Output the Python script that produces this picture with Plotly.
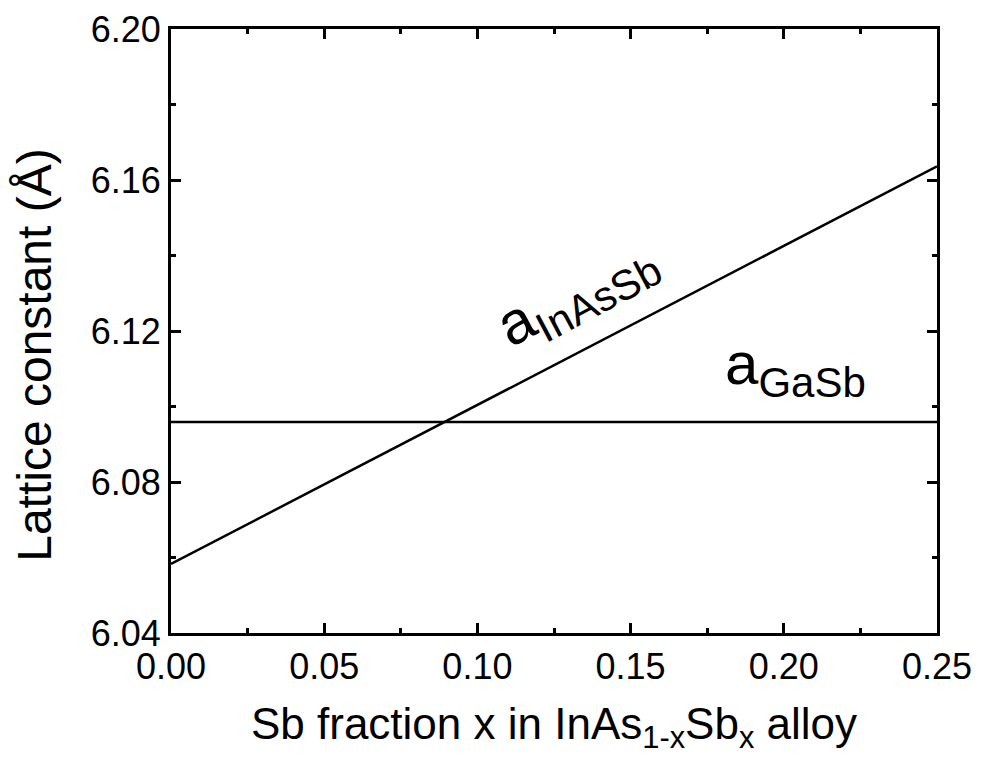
import plotly.graph_objects as go

# Data
x_sb = [0.0, 0.25]
a_inassb = [6.0583, 6.1636]
a_gasb = [6.0959, 6.0959]

x_tickvals = [0.00, 0.05, 0.10, 0.15, 0.20, 0.25]
x_ticktext = ["0.00", "0.05", "0.10", "0.15", "0.20", "0.25"]
y_tickvals = [6.04, 6.08, 6.12, 6.16, 6.20]
y_ticktext = ["6.04", "6.08", "6.12", "6.16", "6.20"]

FONT = "Liberation Sans, Arial, sans-serif"

fig = go.Figure()
fig.add_trace(go.Scatter(x=x_sb, y=a_inassb, mode="lines",
                         line=dict(color="black", width=2.5), showlegend=False))
fig.add_trace(go.Scatter(x=x_sb, y=a_gasb, mode="lines",
                         line=dict(color="black", width=2.5), showlegend=False))

axis_common = dict(
    showline=True, linecolor="black", linewidth=3, mirror="ticks",
    ticks="inside", ticklen=10, tickwidth=3, tickcolor="black",
    showgrid=False, zeroline=False, automargin=False,
    tickfont=dict(family=FONT, size=36, color="black"),
)

fig.update_xaxes(range=[0, 0.25], tickvals=x_tickvals, ticktext=x_ticktext,
                 minor=dict(dtick=0.025, ticks="inside", ticklen=5, tickwidth=3, tickcolor="black"),
                 title=dict(text="Sb fraction x in InAs<sub>1-x</sub>Sb<sub>x</sub> alloy",
                            font=dict(family=FONT, size=44, color="black"), standoff=22),
                 **axis_common)
fig.update_yaxes(range=[6.04, 6.20], tickvals=y_tickvals, ticktext=y_ticktext,
                 minor=dict(dtick=0.02, ticks="inside", ticklen=5, tickwidth=3, tickcolor="black"),
                 **axis_common)

# y-axis title (placed as rotated text to match the original position)
fig.add_annotation(x=-0.178, y=0.46, xref="paper", yref="paper",
                   text="Lattice constant (Å)", showarrow=False, textangle=-90,
                   xanchor="center", yanchor="middle",
                   font=dict(family=FONT, size=48, color="black"))

fig.add_annotation(x=0.1328, y=6.1298, xref="x", yref="y",
                   text="a<sub>InAsSb</sub>", showarrow=False, textangle=-28,
                   font=dict(family=FONT, size=60, color="black"))
fig.add_annotation(x=0.2037, y=6.1103, xref="x", yref="y",
                   text="a<sub>GaSb</sub>", showarrow=False,
                   font=dict(family=FONT, size=60, color="black"))

fig.update_layout(width=982, height=765,
                  margin=dict(l=163, r=53, t=21, b=140),
                  paper_bgcolor="white", plot_bgcolor="white")

fig.write_html("out.html")
